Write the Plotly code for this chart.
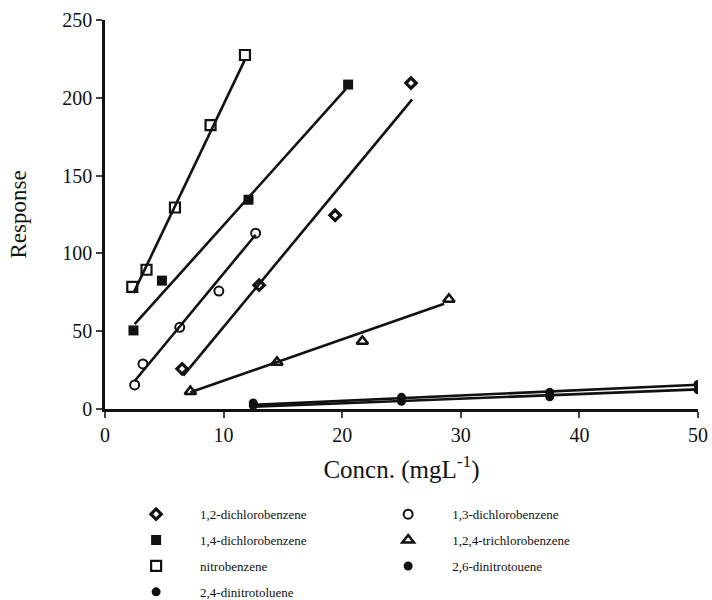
import plotly.graph_objects as go

# ---- data ----
names = ["1,2-dichlorobenzene", "1,3-dichlorobenzene", "1,4-dichlorobenzene",
         "1,2,4-trichlorobenzene", "nitrobenzene", "2,6-dinitrotouene",
         "2,4-dinitrotoluene"]

x_12dcb = [6.5, 13.0, 19.4, 25.8]
y_12dcb = [25.8, 79.6, 124.5, 209.5]
x_13dcb = [2.5, 3.2, 6.3, 9.6, 12.7]
y_13dcb = [15.5, 29.0, 52.5, 75.8, 113.0]
x_14dcb = [2.4, 4.8, 12.1, 20.5]
y_14dcb = [50.5, 82.5, 134.5, 208.5]
x_124tcb = [7.2, 14.5, 21.7, 29.0]
y_124tcb = [11.2, 30.0, 43.5, 70.5]
x_nb = [2.3, 3.5, 5.9, 8.9, 11.8]
y_nb = [78.5, 89.5, 129.5, 182.5, 227.5]
x_26dnt = [12.5, 25.0, 37.5, 50.0]
y_26dnt = [3.9, 7.5, 10.7, 15.8]
x_24dnt = [12.5, 25.0, 37.5, 50.0]
y_24dnt = [2.2, 5.0, 7.8, 12.3]

# fitted lines (end points as drawn in the picture)
lx_12dcb = [6.6, 25.9];  ly_12dcb = [21.5, 199.0]
lx_13dcb = [2.5, 12.7];  ly_13dcb = [18.0, 112.0]
lx_14dcb = [2.5, 20.3];  ly_14dcb = [54.5, 205.5]
lx_124tcb = [7.2, 28.6]; ly_124tcb = [10.8, 67.7]
lx_nb = [2.4, 11.8];     ly_nb = [74.5, 224.5]
lx_26dnt = [12.5, 50.0]; ly_26dnt = [2.6, 15.6]
lx_24dnt = [12.5, 50.0]; ly_24dnt = [1.4, 12.6]

x_ticks = [0, 10, 20, 30, 40, 50]
y_ticks = [0, 50, 100, 150, 200, 250]

BLACK = "#111111"
fig = go.Figure()

lines = [(lx_12dcb, ly_12dcb), (lx_13dcb, ly_13dcb), (lx_14dcb, ly_14dcb),
         (lx_124tcb, ly_124tcb), (lx_nb, ly_nb), (lx_26dnt, ly_26dnt),
         (lx_24dnt, ly_24dnt)]
for lx, ly in lines:
    fig.add_trace(go.Scatter(x=lx, y=ly, mode="lines", showlegend=False,
                             line=dict(color=BLACK, width=2.6),
                             hoverinfo="skip"))

# (name, x, y, symbol, size, outline width, legend column)
series = [
    (names[0], x_12dcb, y_12dcb, "diamond-open", 8, 3.2, "legend"),
    (names[2], x_14dcb, y_14dcb, "square", 10, 0, "legend"),
    (names[4], x_nb, y_nb, "square-open", 10, 2.2, "legend"),
    (names[6], x_24dnt, y_24dnt, "circle", 9, 0, "legend"),
    (names[1], x_13dcb, y_13dcb, "circle-open", 9, 2.0, "legend2"),
    (names[3], x_124tcb, y_124tcb, "triangle-up-open", 10, 2.6, "legend2"),
    (names[5], x_26dnt, y_26dnt, "circle", 9, 0, "legend2"),
]
for i, (nm, xs, ys, sym, sz, lw, lg) in enumerate(series):
    fig.add_trace(go.Scatter(
        x=xs, y=ys, mode="markers", name=nm, legend=lg, legendgroup="g%d" % i,
        marker=dict(symbol=sym, size=sz, color=BLACK,
                    line=dict(color=BLACK, width=lw))))

font_family = "Liberation Serif, Times New Roman, serif"
leg_common = dict(orientation="v", yref="container", y=0.168,
                  xanchor="left", yanchor="top", itemwidth=78,
                  tracegroupgap=6, font=dict(size=13, family=font_family),
                  traceorder="grouped", bgcolor="rgba(0,0,0,0)")
fig.update_layout(
    width=712, height=600,
    margin=dict(l=105, r=14, t=20, b=191, autoexpand=False),
    paper_bgcolor="white", plot_bgcolor="white",
    font=dict(family=font_family, color=BLACK, size=18),
    showlegend=True,
    legend=dict(x=0.012, **leg_common),
    legend2=dict(x=0.437, **leg_common),
    xaxis=dict(range=[0, 50], tickvals=x_ticks, ticks="outside", ticklen=6,
               tickwidth=1.5, showline=True, linewidth=2.5, linecolor=BLACK,
               showgrid=False, zeroline=False, tickfont=dict(size=20),
               title=dict(text="Concn. (mgL<sup>-1</sup>)", font=dict(size=25),
                          standoff=16)),
    yaxis=dict(range=[0, 250], tickvals=y_ticks, ticks="outside", ticklen=6,
               tickwidth=1.5, showline=True, linewidth=2.5, linecolor=BLACK,
               showgrid=False, zeroline=False, tickfont=dict(size=20),
               title=dict(text="Response", font=dict(size=23), standoff=30)),
)

fig.write_html("out.html")
